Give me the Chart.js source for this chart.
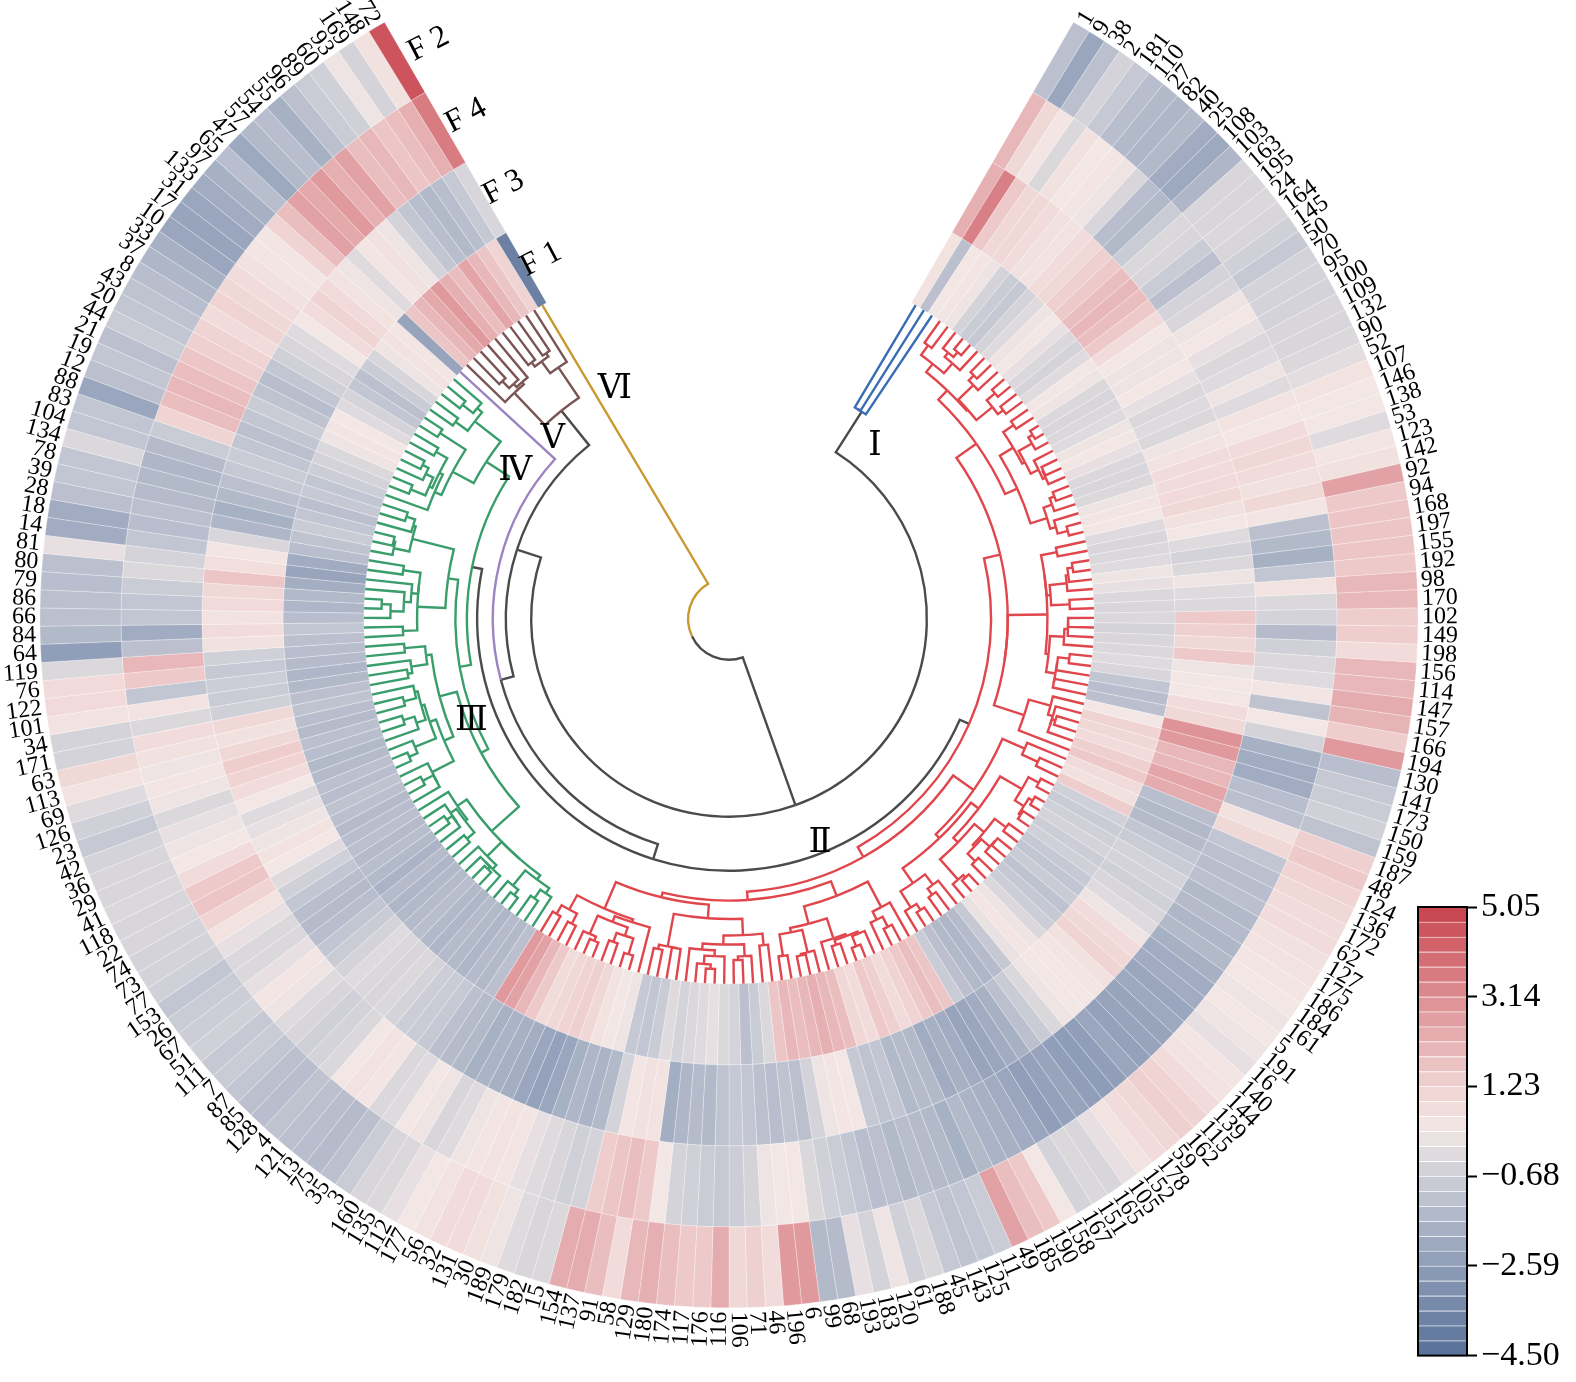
<!DOCTYPE html>
<html>
<head>
<meta charset="utf-8">
<title>Circular heatmap</title>
<script src="https://cdn.jsdelivr.net/npm/chart.js@4.4.1/dist/chart.umd.min.js"></script>
<style>
  html, body { margin: 0; padding: 0; background: #fff; }
  #page { position: relative; width: 1576px; height: 1382px; }
  #ringChart { position: absolute; left: 0; top: 0; }
  #barChart { position: absolute; left: 1400px; top: 880px; }
</style>
</head>
<body>
<div id="page">
  <canvas id="ringChart" width="1576" height="1382"></canvas>
  <canvas id="barChart" width="176" height="500"></canvas>
</div>
<script>
// sample ids, clockwise from the top right
const leafLabels = [
  "1", "9", "38", "2", "181", "110", "27", "82", "40", "25",
  "108", "103", "163", "195", "24", "164", "145", "50", "70", "95",
  "100", "109", "132", "90", "52", "107", "146", "138", "53", "123",
  "142", "92", "94", "168", "197", "155", "192", "98", "170", "102",
  "149", "198", "156", "114", "147", "157", "166", "194", "130", "141",
  "173", "150", "159", "187", "48", "124", "136", "172", "62", "127",
  "175", "186", "184", "161", "5", "191", "16", "140", "144", "139",
  "115", "162", "59", "178", "152", "105", "165", "151", "167", "158",
  "190", "185", "49", "11", "125", "143", "45", "188", "61", "120",
  "183", "193", "68", "99", "6", "196", "46", "71", "106", "116",
  "176", "117", "174", "180", "129", "58", "91", "137", "154", "15",
  "182", "179", "189", "30", "131", "32", "56", "177", "112", "135",
  "160", "3", "35", "75", "13", "121", "4", "128", "85", "87",
  "7", "111", "51", "67", "26", "153", "77", "73", "74", "22",
  "118", "41", "29", "36", "42", "23", "126", "69", "113", "63",
  "171", "34", "101", "122", "76", "119", "64", "84", "66", "86",
  "79", "80", "81", "14", "18", "28", "39", "78", "134", "104",
  "83", "88", "12", "19", "21", "44", "20", "43", "8", "37",
  "33", "10", "17", "31", "133", "97", "65", "47", "57", "54",
  "55", "96", "89", "60", "93", "169", "148", "72"
];

// heatmap values, one array per ring, same order as leafLabels
const F1 = [
  0.5, -1.2, 0.3, 0.4, 0.2, -0.5, -0.8, -0.9, -0.5, -0.2, 0.2, 0.3, 0.0, -0.3, -0.5, -0.2, 0.3, 0.2, -0.3, -0.4,
  -0.3, -0.2, 0.2, 0.3, 0.0, -0.3, -0.4, -0.3, 0.2, 0.4, 0.3, -0.2, -0.4, -0.3, -0.2, 0.2, 0.0, -0.3, -0.4, -0.3,
  -0.5, -0.4, -0.3, -0.2, -0.4, -1.0, -1.3, -1.2, 0.3,
  1.2, 1.0, 0.8, 1.3, 1.5, 0.8, 0.6, 1.4, -0.6, -0.8, -0.6, -0.5, -0.7, -0.6, -0.9, -1.0, -0.8, -1.1, -0.9, -0.7,
  -0.3, 0.2, 0.4, 0.1, -0.9, -1.4, -1.6, -1.5, -1.2, -0.8, 1.6, 1.8, 1.5,
  1.2, 0.8, 1.3, 1.5, 0.8, 1.0, 1.8, 2.0, 2.2, 2.0, 1.8, 2.0, 1.6, -0.3, -0.8, -1.2, -0.5, -0.3, 0.0, -0.2,
  -0.3, -0.5, -0.2, -0.8, -1.0, -0.9, 0.2, 0.3, 0.5, 1.0, 1.3, 1.2, 1.0, 0.8, 1.5, 2.0, 2.6, 2.8, -1.2, -1.5,
  -1.4, -1.6, -1.5, -1.4, -1.6, -1.5, -1.3, -1.4,
  -1.5, -1.6, -1.4, -1.7, -1.5, -1.3, -1.4, -1.2, -1.3, -1.4, -1.2, -1.1, -1.3, -1.2, -1.4, -1.5, -1.3, -1.2, -1.4, -1.3,
  -1.1, -1.2, -1.5, -1.6, -1.4, -1.3, -1.2, -1.0, -1.3, -1.6, -1.5, -1.9, -2.3, -2.0, -1.3, -1.1, -0.8, -1.0, -1.2, -0.9,
  -1.0, -0.7, -0.5, -0.3, 0.2, 0.4, 0.3, -0.2, -0.5, -1.0, -1.2, -0.8, -0.4, 0.2, 0.5, 0.4, -2.3, 1.6, 2.0, 2.4,
  2.8, 2.2, 1.8, 2.5, 2.0, 1.6, 1.2, -3.8
];
const F3 = [
  2.2, 3.5, 1.5, 1.0, 1.0, 0.8, 0.6, 0.5, 0.8, 1.0, 1.3, 1.5, 1.8, 2.0, 1.8, 1.5, 0.8, 0.3, 0.2, 0.2,
  0.3, 0.0, -0.3, -0.2, -0.3, 0.2, 0.5, 0.8, 0.8, 0.9, 1.0,
  0.6, 0.3, -0.2, -0.5, -0.3, 0.2, -0.2, -0.3, 1.5, 1.3, 1.0, 1.5,
  0.2, 0.3, 0.3, 0.8, 1.0, 3.0, 2.8, 2.0, 2.0, 2.5, 2.3, -1.3, -1.5, -1.4, -1.0, -0.8, -0.5,
  -0.5, -0.6, -0.4, -0.2, 0.2, 0.8, 1.0, 1.2, 0.6, 0.4, 0.3, 0.3, 0.2, -0.3, -0.8, -1.2,
  -1.8, -2.0, -2.2, -2.3, -2.0, -1.8, -2.0, -1.5, -1.4, -1.5, -1.0, -1.1, -0.9, 0.3, 0.4, 0.2, -0.5, -1.2, -1.1, -1.3,
  -1.2, -1.0, -0.9, -1.1, -1.5, -1.4, -1.6, -1.9, 0.5, 0.6, 0.4, -0.5, -1.5, -1.7, -1.6, -1.8, -2.2, -2.4, -2.2, -1.9,
  -1.8, -1.7, -1.8, -1.5,
  -1.4, -1.2, -0.9, -0.8, -0.7, -0.5, -0.3, -0.4, -0.3, -0.2, -0.5, -0.8, -1.0, -1.3, -1.4, -1.3, -1.0, -0.6, -0.2, 0.3,
  0.5, 0.2, 0.0, -0.2, 0.3, 0.8, 1.2, 1.4, 1.0, 0.6, 1.0, -0.6, -0.8, -0.7, -0.9, -0.6, 0.6, 0.8, 0.5, 0.9,
  1.0, 1.6, 0.7, 0.4, -0.4, -1.6, -1.8, -1.5, -1.2, -0.9, -0.8, -1.0, -1.2, -1.0, -0.8, -1.1, -1.3, -1.0, -0.6, -0.4,
  -0.2, 0.3, 0.8, 1.2, 0.9, 0.5, 0.2, -0.2, 0.4, 0.6, 0.2, -0.5, -1.0, -1.3, -1.5, -1.3, -0.9, -0.4
];
const F4 = [
  2.0, 1.0, 0.4, -0.3, 0.6, 0.3, 0.4, 0.2, -0.4, -1.3, -1.5, -0.8, -0.3, -0.4, -0.8, -1.2, -0.5, -0.4, 0.2, 0.3,
  0.0, -0.3, -0.2, 0.2, -0.2, 0.5, 0.3, 0.8, 1.0, 0.8, 0.6,
  1.0, 0.4, -1.2, -1.5, -1.8, -1.0, 0.5, -0.3, -0.5, -1.4, -0.6, -0.3, -0.2, 0.4, -1.1, 0.3, -0.5, -1.8, -2.0,
  -2.0, -1.3, -1.2, 0.6, 1.0,
  -1.0, -1.2, -1.3, -1.2, -1.5, -1.4, -1.6, -1.5, -1.8, -2.0, -2.0, -2.2, -2.1, -2.3, -2.3, -2.4, -2.2, -2.5, -2.6, -2.5,
  -2.3, -2.4, -2.5, -2.2, -2.0,
  -1.8, -1.7, -1.5, -1.8, -1.5, -1.4, -1.3, -1.5, -1.2, -1.3, -1.0, -0.8, -0.6, -0.3, 0.3, 0.3, 0.2, -0.5, -0.7, -0.9,
  -0.8, -0.6, -0.5, 0.3, 1.5, 1.8, 1.6, 1.4, -0.5, -0.6, -0.4, -0.2, 0.0, 0.4, 0.5, 0.4, 0.2, -0.2, -0.4, 0.2,
  0.3, -0.2, -0.3, 0.4, 0.5, 0.3, -0.3, -0.5, -0.6, -0.4, -0.2, 0.2, 0.4, 0.0, -0.3,
  -0.3, 0.0, 0.5, 1.2, 1.6, 1.5, 0.8, 0.3, 0.2, 0.0, -0.3, 0.2, 0.4, 0.2, 0.6,
  0.8, -0.3, 0.5, -1.0, 1.5, 2.0,
  -1.2, -2.0, -1.0, -1.0, -0.8, -0.3, -0.5, -1.0, -1.3, -1.2, -1.4, -1.5, -1.6, -1.4, -0.8, 1.2,
  1.8, 2.0, 1.8, 1.6, 1.3, 1.2, 0.8,
  1.2, 1.0, 0.8, 0.6, 0.4, 0.4, 1.2, 1.8, 2.6, 2.4, 2.8, 2.2, 2.6, 1.8, 2.0, 1.6, 1.8, 2.2, 3.6
];
const F2 = [
  -1.2, -2.2, -1.2, -0.5, -0.9, -1.3, -1.5, -1.6, -1.5, -2.0, -2.1, -1.6, -0.4, -0.4, -0.3, -0.4, -0.6, -0.9, -0.5, -0.5,
  -0.5, -0.4, -0.4, -0.3, -0.1, 0.5, 0.3, 0.3, -0.2, 0.4, 0.6,
  2.6, 1.5, 1.6, 1.6, 1.6, 1.5, 2.0, 2.0, 1.4, 1.4, 0.8, 2.0, 2.0, 2.3, 2.1, 1.4, 2.8, -1.3, -0.9, -0.8,
  -0.6, -1.1, 1.3, 1.5,
  1.2, 1.0, 0.8, 0.8, 0.6, 0.5, 0.4, 0.3, 0.2,
  0.3, 0.2, 0.0, 0.4, 0.5, 0.8, 1.2, 1.3, 1.0, 0.8, 0.5, 0.0, -0.4, -0.3, -0.5, 0.3,
  1.5, 1.8, 2.6, -0.8, -1.0, -1.1, -0.9, -0.3, -0.6, 0.2, -0.5, 0.0, -1.4, -1.5, 2.8, 2.8,
  0.8, 1.3, 1.0, 2.3, 1.5, 1.5, 1.8, 2.2, 2.0, 0.8, 1.8, 2.3, 2.3, -0.3, -0.4, -0.2, 0.2, 0.6, 0.8, 0.8,
  0.5, 0.3, 0.0, -0.3,
  -0.4, -0.8, -1.2, -1.4, -1.3, -1.2, -1.1, -1.3, -1.2, -1.0, -0.8, -0.9, -0.6, -0.7,
  -0.8, -1.0, -0.6, -0.5, -0.5, -0.4, -0.4, -0.3, -0.4, -0.4, -0.5, -0.9, -0.6, -0.2, 0.5, 1.0, -0.5, -0.5, 0.5, 0.9,
  0.9, -0.3,
  -2.5, -1.5, -1.2, -1.2, -1.3, -1.2, 0.0, -2.0, -2.0, -1.2, -1.0, -1.0, -0.3, -1.0, -1.0, -2.2, -1.2, -1.0, -1.2,
  -0.8, -1.0, -1.1, -1.3, -1.6, -1.8, -2.2, -2.3, -2.2, -2.0, -1.8, -1.3, -2.1, -1.5, -1.3, -1.8, -1.2, -0.8, -0.6, 0.2,
  -0.5, 0.6,
  4.6
];

// rings from the outside in
const ringNames = ["F 2", "F 4", "F 3", "F 1"];
const ringValues = [F2, F4, F3, F1];

// clusters along the leaf order and the heights where the tree joins them
const clusterNames = ["Ⅰ", "Ⅱ", "Ⅲ", "Ⅳ", "Ⅴ", "Ⅵ"];
const clusterSizes = [3, 117, 66, 1, 10, 1];
const clusterRootHeights = [32.6, 28.2, 28.2, 0, 26.8, 0];
// E = (Ⅱ,Ⅲ), D = (E,Ⅳ), B = (D,Ⅴ), A = (Ⅰ,B), root = (A,Ⅵ)
const joinHeights = [31.0, 35.3, 38.9, 45.8, 88.8];

const colorbarTicks = [5.05, 3.14, 1.23, -0.68, -2.59, -4.50];

// colours
const clusterColors = ["#3a6db3", "#e0464c", "#3a9d6c", "#9a84c2", "#7b5555", "#c9982f"];
const linkGray = "#4b4b4b";
const cmapStops = [
  [-4.50, [88, 112, 152]],
  [-2.59, [141, 156, 183]],
  [-0.68, [205, 206, 215]],
  [0.30, [242, 231, 229]],
  [1.23, [240, 211, 210]],
  [3.14, [221, 142, 147]],
  [5.05, [200, 66, 76]]
];
function colorOf(v) {
  if (v <= cmapStops[0][0]) return "rgb(" + cmapStops[0][1].join(",") + ")";
  for (let k = 1; k < cmapStops.length; k++) {
    const [v1, c1] = cmapStops[k];
    if (v <= v1) {
      const [v0, c0] = cmapStops[k - 1];
      const t = (v - v0) / (v1 - v0);
      const c = c0.map((x, j) => Math.round(x + (c1[j] - x) * t));
      return "rgb(" + c.join(",") + ")";
    }
  }
  return "rgb(" + cmapStops[cmapStops.length - 1][1].join(",") + ")";
}

// ---- dendrogram: order-preserving Ward joins inside each cluster ----
function buildCluster(start, size, k) {
  let nodes = [];
  for (let i = start; i < start + size; i++) {
    nodes.push({ leaf: i, n: 1, c: [F1[i], F3[i], F4[i], F2[i]], h: 0 });
  }
  while (nodes.length > 1) {
    let best = 0, bestD = Infinity;
    for (let j = 0; j < nodes.length - 1; j++) {
      const a = nodes[j], b = nodes[j + 1];
      let d2 = 0;
      for (let q = 0; q < 4; q++) d2 += (a.c[q] - b.c[q]) ** 2;
      const d = Math.sqrt(2 * a.n * b.n / (a.n + b.n) * d2);
      if (d < bestD) { bestD = d; best = j; }
    }
    const a = nodes[best], b = nodes[best + 1];
    const n = a.n + b.n;
    const c = a.c.map((x, q) => (x * a.n + b.c[q] * b.n) / n);
    nodes.splice(best, 2, { children: [a, b], n, c, h: Math.max(bestD, a.h, b.h) });
  }
  const top = nodes[0];
  const hTop = top.h || 1;
  (function walk(nd) {
    nd.H = nd.children ? clusterRootHeights[k] * Math.sqrt(nd.h / hTop) : 0;
    nd.link = clusterColors[k];
    if (nd.children) nd.children.forEach(walk);
  })(top);
  if (size > 1) top.link = linkGray;
  return top;
}

const clusters = [];
let startAt = 0;
clusterSizes.forEach((n, k) => { clusters.push(buildCluster(startAt, n, k)); startAt += n; });
const nodeE = { children: [clusters[1], clusters[2]], H: joinHeights[0], link: linkGray };
const nodeD = { children: [nodeE, clusters[3]], H: joinHeights[1], link: linkGray };
const nodeB = { children: [nodeD, clusters[4]], H: joinHeights[2], link: linkGray };
const nodeA = { children: [clusters[0], nodeB], H: joinHeights[3], link: linkGray };
const treeRoot = { children: [nodeA, clusters[5]], H: joinHeights[4], link: linkGray };

const serif = "'Liberation Serif', 'Times New Roman', 'DejaVu Serif', serif";

const dendroPlugin = {
  id: "dendro",
  afterDatasetsDraw(chart) {
    const inner = chart.getDatasetMeta(ringNames.length - 1).data;
    const cx = inner[0].x, cy = inner[0].y, rIn = inner[0].innerRadius;
    const toR = h => rIn * (1 - h / 100);
    const ctx = chart.ctx;
    function place(nd) {
      if (!nd.children) {
        const el = inner[nd.leaf];
        nd.a = (el.startAngle + el.endAngle) / 2;
      } else {
        nd.children.forEach(place);
        nd.a = (nd.children[0].a + nd.children[1].a) / 2;
      }
      nd.r = toR(nd.H);
    }
    function draw(nd) {
      if (!nd.children) return;
      nd.children.forEach(ch => {
        ctx.strokeStyle = ch.link;
        ctx.beginPath();
        ctx.arc(cx, cy, nd.r, nd.a, ch.a, ch.a < nd.a);
        ctx.lineTo(cx + ch.r * Math.cos(ch.a), cy + ch.r * Math.sin(ch.a));
        ctx.stroke();
        draw(ch);
      });
    }
    ctx.save();
    ctx.lineWidth = 2.4;
    ctx.lineJoin = "miter";
    ctx.lineCap = "butt";
    place(treeRoot);
    draw(treeRoot);

    // cluster numerals
    const romanAt = [[40.2, 226], [157.9, 242], [248.4, 277], [304.7, 260], [315.6, 252], [333.6, 257]];
    ctx.fillStyle = "#000";
    ctx.font = "34px " + serif;
    ctx.textAlign = "center";
    ctx.textBaseline = "middle";
    clusterNames.forEach((nm, k) => {
      const phi = (romanAt[k][0] - 90) * Math.PI / 180;
      ctx.fillText(nm, cx + romanAt[k][1] * Math.cos(phi), cy + romanAt[k][1] * Math.sin(phi));
    });
    ctx.restore();
  },
  afterDraw(chart) {
    const ctx = chart.ctx;
    const outerEls = chart.getDatasetMeta(0).data;
    const cx = outerEls[0].x, cy = outerEls[0].y, rOut = outerEls[0].outerRadius;
    ctx.save();
    ctx.fillStyle = "#000";
    ctx.font = "24px " + serif;
    ctx.textBaseline = "middle";
    outerEls.forEach((el, i) => {
      const a = (el.startAngle + el.endAngle) / 2;
      const r = rOut + 4;
      ctx.save();
      ctx.translate(cx + r * Math.cos(a), cy + r * Math.sin(a));
      if (Math.cos(a) >= 0) { ctx.rotate(a); ctx.textAlign = "left"; }
      else { ctx.rotate(a + Math.PI); ctx.textAlign = "right"; }
      ctx.fillText(leafLabels[i], 0, 0);
      ctx.restore();
    });
    // ring names past the end of the rings
    ctx.font = "32px " + serif;
    ctx.textAlign = "center";
    const phi = (332.4 - 90) * Math.PI / 180;
    ringNames.forEach((nm, k) => {
      const el = chart.getDatasetMeta(k).data[0];
      const r = (el.innerRadius + el.outerRadius) / 2;
      ctx.save();
      ctx.translate(cx + r * Math.cos(phi), cy + r * Math.sin(phi));
      ctx.rotate(phi + Math.PI / 2);
      ctx.fillText(nm, 0, 0);
      ctx.restore();
    });
    ctx.restore();
  }
};

new Chart(document.getElementById("ringChart"), {
  type: "doughnut",
  data: {
    labels: leafLabels,
    datasets: ringValues.map((vals, k) => ({
      label: ringNames[k],
      data: vals.map(() => 1),
      backgroundColor: vals.map(colorOf),
      borderColor: "rgba(255,255,255,0.4)",
      borderWidth: 0.7,
      hoverOffset: 0
    }))
  },
  options: {
    responsive: false,
    animation: false,
    devicePixelRatio: 1,
    events: [],
    rotation: 30,
    circumference: 300,
    radius: 689,
    cutout: "52.98%",
    layout: { padding: { left: 0, right: 118, top: 0, bottom: 52 } },
    plugins: { legend: { display: false }, tooltip: { enabled: false } }
  },
  plugins: [dendroPlugin]
});

// ---- colour bar ----
const cbLow = colorbarTicks[colorbarTicks.length - 1];
const cbHigh = colorbarTicks[0];
const nBands = 30;
const bands = [];
for (let k = 0; k < nBands; k++) {
  bands.push([cbLow + (cbHigh - cbLow) * k / nBands, cbLow + (cbHigh - cbLow) * (k + 1) / nBands]);
}
const boxPlugin = {
  id: "box",
  afterDraw(chart) {
    const { ctx, chartArea: a } = chart;
    ctx.save();
    ctx.strokeStyle = "#000";
    ctx.lineWidth = 2;
    ctx.strokeRect(a.left, a.top, a.right - a.left, a.bottom - a.top);
    ctx.restore();
  }
};
new Chart(document.getElementById("barChart"), {
  type: "bar",
  data: {
    labels: [""],
    datasets: bands.map(b => ({
      data: [b],
      backgroundColor: colorOf((b[0] + b[1]) / 2),
      borderColor: "rgba(255,255,255,0.35)",
      borderWidth: { top: 1, bottom: 0, left: 0, right: 0 },
      borderSkipped: false,
      grouped: false,
      barPercentage: 1,
      categoryPercentage: 1
    }))
  },
  options: {
    responsive: false,
    animation: false,
    devicePixelRatio: 1,
    events: [],
    layout: { padding: { left: 18, right: 0, top: 27, bottom: 23 } },
    plugins: { legend: { display: false }, tooltip: { enabled: false } },
    scales: {
      x: { display: false },
      y: {
        position: "right",
        min: cbLow,
        max: cbHigh,
        afterBuildTicks: s => { s.ticks = colorbarTicks.map(v => ({ value: v })); },
        afterFit: s => { s.width = 109; },
        ticks: {
          padding: 4,
          color: "#000",
          font: { family: serif, size: 34 },
          callback: v => (v < 0 ? "\u2212" : "") + Math.abs(v).toFixed(2)
        },
        grid: { drawOnChartArea: false, drawTicks: true, tickLength: 10, tickWidth: 2, color: "#000" },
        border: { display: true, color: "#000", width: 2 }
      }
    }
  },
  plugins: [boxPlugin]
});
</script>
</body>
</html>
